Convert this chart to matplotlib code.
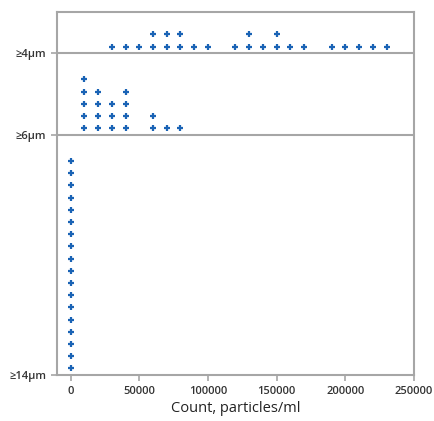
import numpy as np
import matplotlib.pyplot as plt

plt.rcParams['font.family'] = ['Open Sans', 'DejaVu Sans']

# dot plot data: x value (particles/ml) and number of stacked dots
categories = ['≥14µm', '≥6µm', '≥4µm']
x_14 = [0]
n_14 = [18]
x_6 = [10000, 20000, 30000, 40000, 60000, 70000, 80000]
n_6 = [5, 4, 3, 4, 2, 1, 1]
x_4 = [30000, 40000, 50000, 60000, 70000, 80000, 90000, 100000, 120000, 130000,
       140000, 150000, 160000, 170000, 190000, 200000, 210000, 220000, 230000]
n_4 = [1, 1, 1, 2, 2, 2, 1, 1, 1, 2, 1, 2, 1, 1, 1, 1, 1, 1, 1]

# baseline of each category row (in dot-height units)
base = [0, 19.67, 26.37]

fig = plt.figure(figsize=(4.34, 4.21), dpi=100)
ax = fig.add_axes([0.131, 0.109, 0.823, 0.8625])

blue = '#1a63b5'
for b, xs, ns in zip(base, [x_14, x_6, x_4], [n_14, n_6, n_4]):
    px, py = [], []
    for xv, n in zip(xs, ns):
        for k in range(n):
            px.append(xv)
            py.append(b + 0.55 + k)
    ax.plot(px, py, linestyle='none', marker='+', color=blue,
            markersize=4.5, markeredgewidth=1.6)

# separator lines
for b in base[1:]:
    ax.axhline(b, color='#a6a6a6', linewidth=1.5, zorder=0)

ax.set_xlim(-10000, 250000)
ax.set_ylim(0, 29.75)
ax.set_xticks(np.arange(0, 250001, 50000))
ax.set_yticks(base)
ax.set_yticklabels(categories)

for s in ax.spines.values():
    s.set_color('#a6a6a6')
    s.set_linewidth(1.5)
ax.tick_params(colors='#a6a6a6', labelcolor='#333333', labelsize=8,
               length=4, width=1.2)
for lbl in ax.get_xticklabels() + ax.get_yticklabels():
    lbl.set_fontweight('semibold')
ax.set_xlabel('Count, particles/ml', fontsize=10.5, color='#222222', labelpad=3)

fig.savefig('out.png', dpi=100)
